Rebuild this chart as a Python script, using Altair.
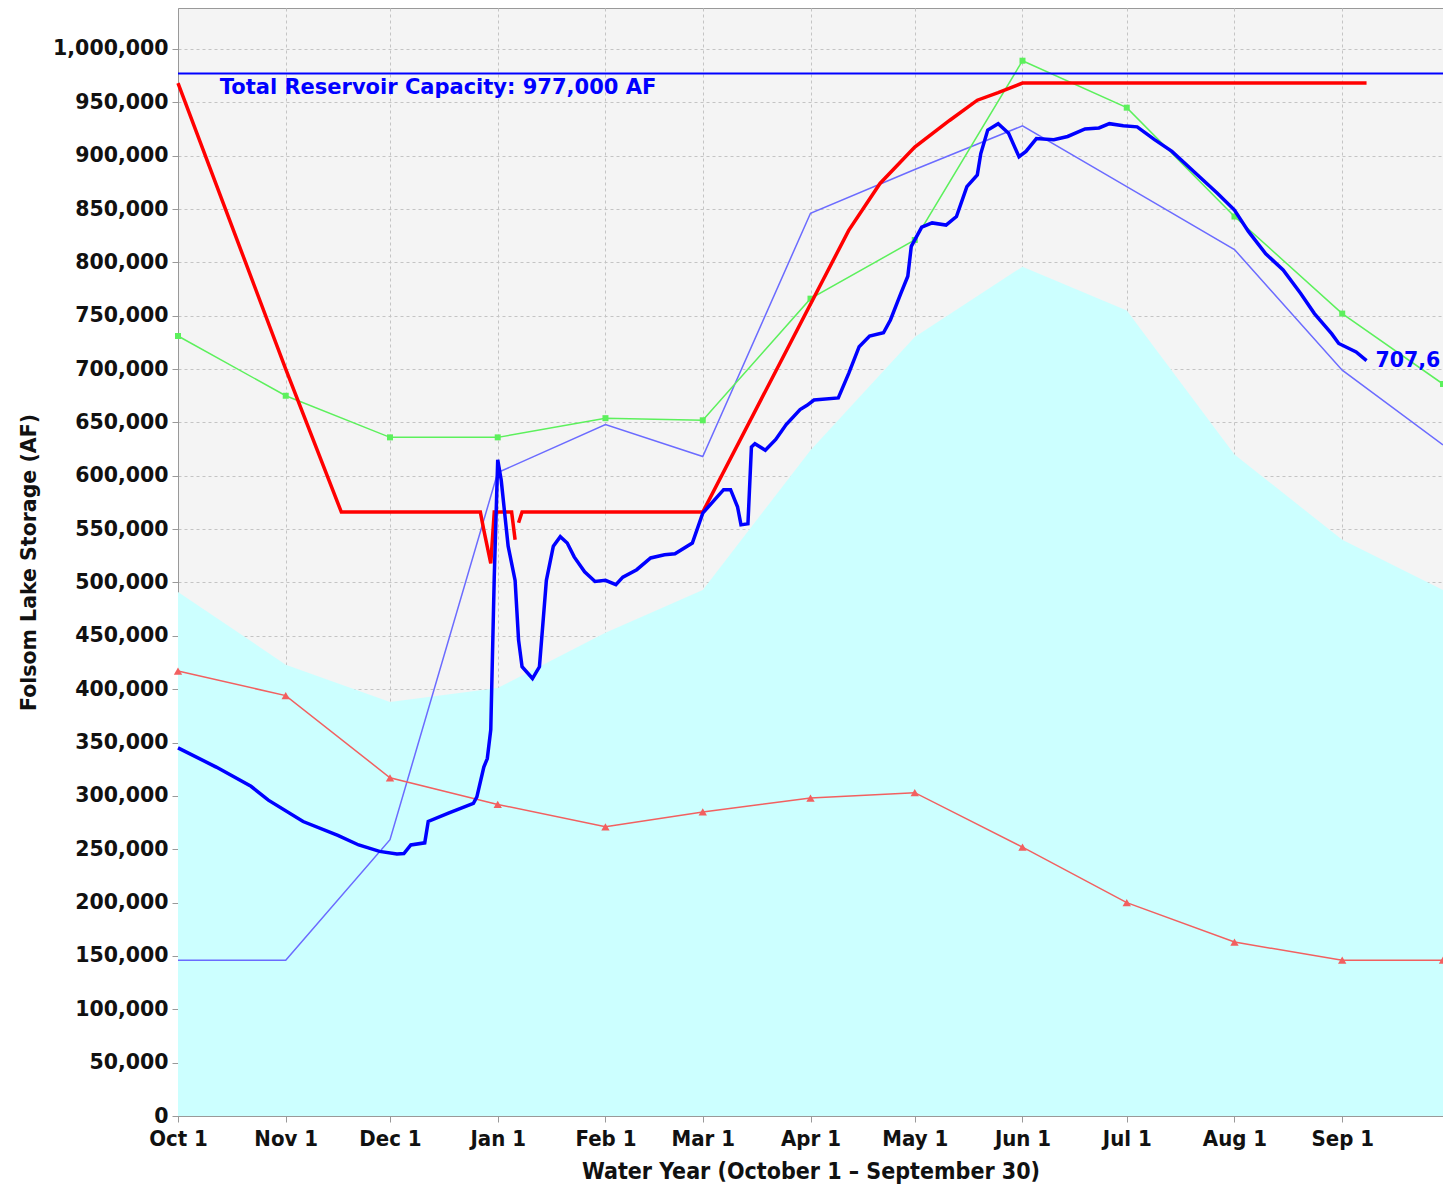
import altair as alt
import pandas as pd

# ---------------- data ----------------
months = ["2016-10-01", "2016-11-01", "2016-12-01", "2017-01-01", "2017-02-01",
          "2017-03-01", "2017-04-01", "2017-05-01", "2017-06-01", "2017-07-01",
          "2017-08-01", "2017-09-01", "2017-09-30"]

avg_storage = [491000, 423000, 388000, 401000, 453000, 493000, 624000,
               730000, 796000, 755000, 620000, 540000, 493000]
thin_blue = [146000, 146000, 259000, 603000, 648000, 618000, 846000,
             887000, 928000, 871000, 812000, 699000, 629000]
green_vals = [731000, 675000, 636000, 636000, 654000, 652000, 766000,
              821000, 989000, 945000, 843000, 752000, 686000]
tri_vals = [417000, 394000, 317000, 292000, 271000, 285000, 298000,
            303000, 252000, 200000, 163000, 146000, 146000]

rule_dates = ["2016-10-01", "2016-11-01", "2016-11-17", "2016-12-27", "2016-12-28",
              "2016-12-30", "2016-12-31", "2017-01-05", "2017-01-06",
              "2017-01-07", "2017-01-08", "2017-03-01", "2017-04-12", "2017-04-21",
              "2017-05-01", "2017-05-11", "2017-05-19", "2017-05-25", "2017-06-01",
              "2017-09-08"]
rule_vals = [968000, 700000, 566000, 566000, 549000,
             518000, 566000, 566000, 540000,
             556000, 566000, 566000, 830000, 874000,
             908000, 933000, 952000, 959000, 968000,
             968000]
rule_seg = [1, 1, 1, 1, 1, 1, 1, 1, 1,
            2, 2, 2, 2, 2, 2, 2, 2, 2, 2, 2]

blue_dates = [
    "2016-10-01", "2016-10-12", "2016-10-22", "2016-10-27", "2016-11-06", "2016-11-16",
    "2016-11-22", "2016-11-28", "2016-12-03", "2016-12-05", "2016-12-07", "2016-12-11",
    "2016-12-12", "2016-12-18", "2016-12-25", "2016-12-26", "2016-12-28", "2016-12-29",
    "2016-12-30", "2016-12-31", "2017-01-01", "2017-01-02", "2017-01-04", "2017-01-06",
    "2017-01-07", "2017-01-08", "2017-01-11", "2017-01-13", "2017-01-15", "2017-01-17",
    "2017-01-19", "2017-01-21", "2017-01-23", "2017-01-26", "2017-01-29", "2017-02-01",
    "2017-02-04", "2017-02-06", "2017-02-10", "2017-02-14", "2017-02-18", "2017-02-21",
    "2017-02-26", "2017-03-01", "2017-03-04", "2017-03-07", "2017-03-09", "2017-03-11",
    "2017-03-12", "2017-03-14", "2017-03-15", "2017-03-16", "2017-03-19", "2017-03-22",
    "2017-03-25", "2017-03-29", "2017-03-31", "2017-04-02", "2017-04-09", "2017-04-12",
    "2017-04-15", "2017-04-18", "2017-04-22", "2017-04-24", "2017-04-27", "2017-04-29",
    "2017-04-30", "2017-05-03", "2017-05-06", "2017-05-10", "2017-05-13", "2017-05-16",
    "2017-05-19", "2017-05-20", "2017-05-22", "2017-05-25", "2017-05-28", "2017-05-31",
    "2017-06-02", "2017-06-05", "2017-06-10", "2017-06-14", "2017-06-19", "2017-06-23",
    "2017-06-26", "2017-06-30", "2017-07-04", "2017-07-09", "2017-07-14", "2017-07-22",
    "2017-07-27", "2017-08-01", "2017-08-05", "2017-08-10", "2017-08-15", "2017-08-20",
    "2017-08-24", "2017-08-29", "2017-08-31", "2017-09-05", "2017-09-08"]
blue_vals = [
    345000, 327000, 309000, 296000, 276000, 263000,
    254000, 248000, 245500, 246000, 254000, 256000,
    276000, 284000, 293000, 299000, 327000, 335000,
    362000, 505000, 615000, 596000, 534000, 502000,
    446000, 421000, 410000, 421000, 502000, 534000,
    543000, 537000, 524000, 510000, 501000, 502000,
    498000, 505000, 512000, 523000, 526000, 527000,
    537000, 565000, 576000, 587000, 587000, 571000,
    554000, 555000, 627000, 630000, 624000, 634000,
    648000, 662000, 666000, 671000, 673000, 696000,
    721000, 731000, 734000, 746000, 771000, 787000,
    815000, 833000, 837000, 835000, 843000, 871000,
    882000, 902000, 924000, 930000, 921000, 899000,
    904000, 916000, 915000, 918000, 925000, 926000,
    930000, 928000, 927000, 915000, 904000, 880000,
    865000, 849000, 829000, 808000, 793000, 771000,
    752000, 733000, 724000, 716000, 708000]

CAPACITY = 977000
capacity_label = "Total Reservoir Capacity: 977,000 AF"
capacity_label_date = "2016-10-13"
last_label = "707,6"

y_ticks = list(range(0, 1000001, 50000))

# ---------------- tables ----------------
monthly = pd.DataFrame({"date": months, "avg": avg_storage, "thin": thin_blue,
                        "green": green_vals, "tri": tri_vals})
rule_df = pd.DataFrame({"date": rule_dates, "value": rule_vals, "seg": rule_seg})
blue_df = pd.DataFrame({"date": blue_dates, "value": blue_vals})
cap_df = pd.DataFrame({"date": [capacity_label_date], "value": [CAPACITY], "label": [capacity_label]})
last_df = pd.DataFrame({"date": [blue_dates[-1]], "value": [blue_vals[-1]], "label": [last_label]})

# ---------------- scales / axes ----------------
YFONT = "DejaVu Sans"
XFONT = "DejaVu Sans Condensed"

x_scale = alt.Scale(type="utc",
                    domain=[alt.DateTime(year=2016, month=10, date=1, utc=True),
                            alt.DateTime(year=2017, month=9, date=30, utc=True)],
                    nice=False)
y_scale = alt.Scale(domain=[0, 1038400], nice=False, zero=True)

x_axis = alt.Axis(format="%b %-d", tickCount=alt.TimeIntervalStep(interval="month", step=1),
                  labelFont=XFONT, labelFontWeight="bold", labelFontSize=22, labelColor="#111111",
                  labelPadding=6, labelOverlap=False, labelFlush=False,
                  title="Water Year (October 1 – September 30)", titleFont=XFONT,
                  titleFontWeight="bold", titleFontSize=23, titleColor="#111111", titlePadding=11,
                  grid=True, gridDash=[3, 3], gridColor="#c4c4c4", gridWidth=1,
                  domainColor="#999999", tickColor="#999999", tickSize=6)
y_axis = alt.Axis(values=y_ticks, format=",d",
                  labelFont=YFONT, labelFontWeight="bold", labelFontSize=20.5, labelColor="#111111",
                  labelPadding=4,
                  title="Folsom Lake Storage (AF)", titleFont=YFONT, titleFontWeight="bold",
                  titleFontSize=20.5, titleColor="#111111", titlePadding=13,
                  grid=True, gridDash=[3, 3], gridColor="#c4c4c4", gridWidth=1,
                  domainColor="#999999", tickColor="#999999", tickSize=6)


def X():
    return alt.X("date:T", scale=x_scale, axis=x_axis)


def Y(field):
    return alt.Y(f"{field}:Q", scale=y_scale, axis=y_axis)


area = alt.Chart(monthly).mark_area(color="#ccffff", opacity=1).encode(x=X(), y=Y("avg"))
thin = alt.Chart(monthly).mark_line(color="#6b6bff", strokeWidth=1.5).encode(x=X(), y=Y("thin"))
tri = alt.Chart(monthly).mark_line(
    color="#f26060", strokeWidth=1.5,
    point=alt.OverlayMarkDef(shape="triangle-up", filled=True, size=70, color="#f26060", opacity=1)
).encode(x=X(), y=Y("tri"))
green = alt.Chart(monthly).mark_line(
    color="#5cf05c", strokeWidth=1.5,
    point=alt.OverlayMarkDef(shape="square", filled=True, size=36, color="#5cf05c", opacity=1)
).encode(x=X(), y=Y("green"))
cap_rule = alt.Chart(cap_df).mark_rule(color="#0000ff", strokeWidth=2).encode(y=Y("value"))
rule_line = alt.Chart(rule_df).mark_line(color="#ff0000", strokeWidth=3.5).encode(
    x=X(), y=Y("value"), detail="seg:N")
blue_line = alt.Chart(blue_df).mark_line(color="#0000ff", strokeWidth=3.5).encode(x=X(), y=Y("value"))
cap_text = alt.Chart(cap_df).mark_text(align="left", baseline="middle", dy=14, font=YFONT,
                                       fontWeight="bold", fontSize=21, color="#0000ff").encode(
    x=X(), y=Y("value"), text="label:N")
last_text = alt.Chart(last_df).mark_text(align="left", baseline="middle", dx=9, font=YFONT,
                                         fontWeight="bold", fontSize=20.5, color="#0000ff").encode(
    x=X(), y=Y("value"), text="label:N")

chart = alt.layer(area, thin, tri, green, cap_rule, rule_line, blue_line, cap_text, last_text).properties(
    width=1265, height=1108,
    padding={"left": 170, "top": 0, "right": 0, "bottom": 70},
    autosize=alt.AutoSizeParams(type="none"),
    background="white",
).configure_view(fill="#f4f4f4", stroke="#999999", strokeWidth=1)

chart.save("out.html", embed_options={"renderer": "svg", "actions": False})
